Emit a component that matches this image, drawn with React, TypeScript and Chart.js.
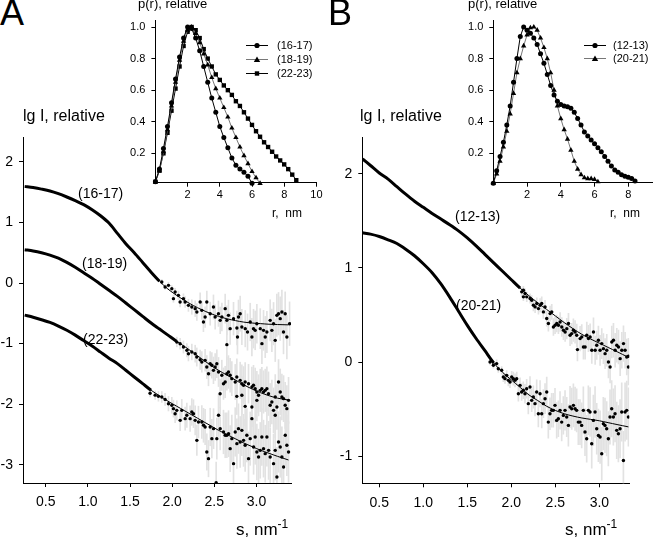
import React, { useEffect, useRef } from 'react';
import { Chart, registerables } from 'chart.js';

Chart.register(...registerables);

const FONT = '"Liberation Sans", Arial, Helvetica, sans-serif';
Chart.defaults.font.family = FONT;
Chart.defaults.color = '#000';

// ---------------- Panel A : scattering curves (lg I vs s) ----------------
const sGridA = [0.25, 0.35, 0.45, 0.55, 0.65, 0.75, 0.85, 0.95, 1.05, 1.15, 1.25, 1.35, 1.45, 1.55, 1.65, 1.75,
  1.85, 1.95, 2.05, 2.15, 2.25, 2.35, 2.45, 2.55, 2.65, 2.75, 2.85, 2.95, 3.05, 3.15, 3.25, 3.38];
const fitA1617 = [1.595, 1.575, 1.55, 1.52, 1.475, 1.42, 1.36, 1.295, 1.21, 1.11, 0.99, 0.82, 0.65, 0.5, 0.34, 0.18,
  0.03, -0.1, -0.2, -0.29, -0.37, -0.44, -0.5, -0.55, -0.59, -0.62, -0.645, -0.66, -0.67, -0.68, -0.685, -0.69];
const fitA1819 = [0.55, 0.53, 0.5, 0.46, 0.41, 0.34, 0.26, 0.17, 0.08, -0.02, -0.12, -0.22, -0.33, -0.44, -0.55, -0.66,
  -0.76, -0.86, -0.96, -1.05, -1.15, -1.25, -1.35, -1.44, -1.52, -1.6, -1.68, -1.75, -1.81, -1.86, -1.9, -1.93];
const fitA2223 = [-0.53, -0.565, -0.605, -0.65, -0.71, -0.78, -0.86, -0.95, -1.04, -1.14, -1.24, -1.33, -1.44, -1.55, -1.66, -1.77,
  -1.86, -1.95, -2.03, -2.11, -2.19, -2.27, -2.35, -2.43, -2.5, -2.57, -2.64, -2.7, -2.76, -2.81, -2.86, -2.92];
const denseEndA = [1.85, 2.05, 1.72];

// noisy experimental points: [s, lg I, error]
const noisyA1617 = [[1.877,0.017,0.04],[1.916,-0.066,0.04],[1.956,-0.038,0.05],[1.996,-0.093,0.05],[2.015,-0.258,0.06],[2.035,-0.148,0.06],[2.074,-0.203,0.07],[2.094,-0.313,0.08],[2.134,-0.258,0.08],[2.154,-0.313,0.09],[2.193,-0.368,0.1],[2.233,-0.396,0.12],[2.273,-0.423,0.13],[2.293,-0.478,0.14],[2.332,-0.313,0.15],[2.352,-0.451,0.15],[2.371,-0.643,0.16],[2.391,-0.561,0.17],[2.411,-0.313,0.18],[2.451,-0.506,0.19],[2.49,-0.396,0.2],[2.51,-0.561,0.2],[2.549,-0.506,0.21],[2.57,-0.616,0.22],[2.59,-0.561,0.23],[2.629,-0.423,0.24],[2.649,-0.616,0.24],[2.649,-1.017,0.25],[2.668,-0.533,0.25],[2.688,-0.753,0.26],[2.728,-0.588,0.27],[2.768,-0.743,0.28],[2.775,-0.891,0.28],[2.787,-0.561,0.28],[2.807,-0.506,0.29],[2.827,-0.726,0.29],[2.867,-0.753,0.3],[2.894,-0.809,0.3],[2.926,-0.643,0.31],[2.946,-0.891,0.31],[2.965,-0.753,0.32],[2.985,-0.781,0.32],[3.005,-0.671,0.32],[3.045,-0.753,0.33],[3.065,-1.0,0.33],[3.084,-0.781,0.33],[3.104,-0.891,0.34],[3.124,-0.809,0.34],[3.163,-0.616,0.34],[3.183,-0.781,0.35],[3.203,-0.671,0.35],[3.223,-0.946,0.35],[3.242,-0.533,0.35],[3.262,-0.506,0.35],[3.282,-0.588,0.36],[3.302,-0.478,0.36],[3.321,-0.809,0.36],[3.341,-0.506,0.36],[3.361,-0.891,0.36],[3.393,-0.671,0.36]];
const noisyA1819 = [[2.055,-0.973,0.08],[2.094,-1.001,0.09],[2.134,-1.056,0.1],[2.174,-1.111,0.11],[2.193,-1.166,0.12],[2.233,-1.138,0.13],[2.273,-1.166,0.14],[2.292,-1.221,0.15],[2.332,-1.265,0.16],[2.352,-1.303,0.17],[2.391,-1.276,0.18],[2.411,-1.386,0.19],[2.431,-1.496,0.2],[2.451,-1.331,0.2],[2.471,-1.358,0.21],[2.49,-1.441,0.22],[2.51,-1.386,0.22],[2.53,-1.331,0.23],[2.55,-1.468,0.24],[2.569,-1.826,0.24],[2.589,-1.523,0.25],[2.609,-1.661,0.26],[2.629,-1.633,0.26],[2.649,-1.496,0.27],[2.668,-1.468,0.27],[2.688,-1.523,0.28],[2.708,-1.578,0.28],[2.748,-1.633,0.29],[2.767,-1.551,0.3],[2.767,-1.87,0.3],[2.807,-1.606,0.3],[2.827,-1.661,0.31],[2.827,-1.853,0.31],[2.847,-1.688,0.31],[2.866,-1.633,0.32],[2.866,-2.035,0.32],[2.906,-1.661,0.32],[2.946,-1.716,0.33],[2.946,-2.046,0.33],[2.946,-2.238,0.33],[2.965,-1.688,0.33],[2.985,-1.743,0.34],[3.005,-1.798,0.34],[3.005,-1.936,0.34],[3.025,-1.853,0.34],[3.045,-1.771,0.35],[3.064,-1.743,0.35],[3.084,-1.798,0.35],[3.104,-1.771,0.35],[3.124,-1.743,0.36],[3.143,-1.826,0.36],[3.163,-2.018,0.36],[3.183,-1.963,0.36],[3.203,-2.101,0.37],[3.223,-1.881,0.37],[3.223,-2.183,0.37],[3.243,-2.046,0.37],[3.262,-1.633,0.37],[3.282,-1.798,0.38],[3.302,-1.881,0.38],[3.322,-1.908,0.38],[3.341,-2.018,0.38],[3.361,-2.073,0.38],[3.381,-1.936,0.38]];
const noisyA2223 = [[1.738,-1.82,0.06],[1.798,-1.85,0.07],[1.837,-1.87,0.08],[1.877,-1.88,0.09],[1.916,-1.92,0.1],[1.956,-1.991,0.12],[1.996,-2.018,0.13],[2.015,-2.073,0.14],[2.035,-2.156,0.15],[2.055,-2.101,0.16],[2.095,-2.266,0.17],[2.114,-2.101,0.18],[2.154,-2.238,0.19],[2.174,-2.183,0.2],[2.213,-2.238,0.21],[2.233,-2.128,0.22],[2.253,-2.156,0.23],[2.273,-2.266,0.24],[2.293,-2.596,0.25],[2.312,-2.293,0.26],[2.352,-2.293,0.27],[2.372,-2.348,0.28],[2.391,-2.376,0.29],[2.411,-2.788,0.3],[2.431,-2.898,0.3],[2.451,-2.376,0.31],[2.471,-2.568,0.32],[2.491,-2.403,0.33],[2.522,-3.294,0.34],[2.53,-2.568,0.34],[2.55,-2.183,0.35],[2.57,-2.403,0.35],[2.609,-2.458,0.36],[2.629,-2.513,0.37],[2.649,-2.513,0.37],[2.669,-2.486,0.38],[2.688,-2.733,0.38],[2.708,-2.568,0.39],[2.728,-2.981,0.4],[2.748,-2.458,0.4],[2.768,-2.651,0.41],[2.787,-2.403,0.41],[2.807,-2.623,0.42],[2.827,-2.431,0.42],[2.847,-2.596,0.43],[2.866,-2.678,0.43],[2.886,-2.513,0.44],[2.906,-2.898,0.44],[2.926,-2.568,0.44],[2.966,-2.706,0.45],[2.985,-2.541,0.45],[3.005,-2.788,0.46],[3.025,-2.871,0.46],[3.045,-2.761,0.46],[3.064,-2.541,0.47],[3.084,-2.733,0.47],[3.104,-2.816,0.47],[3.124,-2.541,0.48],[3.144,-2.761,0.48],[3.163,-2.871,0.48],[3.203,-2.981,0.49],[3.223,-2.761,0.49],[3.243,-3.2,0.49],[3.262,-2.623,0.5],[3.282,-2.706,0.5],[3.302,-2.871,0.5],[3.322,-3.036,0.5],[3.342,-2.513,0.5],[3.361,-2.678,0.5],[3.381,-2.788,0.5]];

// ---------------- Panel B : scattering curves ----------------
const sGridB = [0.31, 0.4, 0.5, 0.6, 0.7, 0.8, 0.9, 1.0, 1.1, 1.2, 1.3, 1.4, 1.5, 1.6, 1.7, 1.8, 1.9, 2.0, 2.1, 2.2,
  2.3, 2.4, 2.5, 2.6, 2.7, 2.8, 2.9, 3.0, 3.1, 3.2, 3.33];
const fitB1213 = [2.16, 2.09, 2.01, 1.945, 1.865, 1.785, 1.71, 1.645, 1.58, 1.52, 1.46, 1.395, 1.32, 1.235, 1.145, 1.055,
  0.965, 0.875, 0.785, 0.705, 0.63, 0.56, 0.49, 0.42, 0.355, 0.295, 0.245, 0.2, 0.155, 0.11, 0.05];
const fitB2021 = [1.375, 1.36, 1.335, 1.3, 1.26, 1.2, 1.13, 1.045, 0.95, 0.83, 0.69, 0.54, 0.39, 0.25, 0.12, -0.01,
  -0.11, -0.19, -0.27, -0.35, -0.41, -0.47, -0.515, -0.55, -0.575, -0.595, -0.61, -0.625, -0.645, -0.665, -0.69];
const denseEndB = [2.1, 1.75];

const noisyB1213 = [[2.118,0.746,0.04],[2.137,0.764,0.04],[2.137,0.693,0.04],[2.156,0.728,0.05],[2.175,0.693,0.05],[2.213,0.675,0.05],[2.232,0.657,0.05],[2.251,0.604,0.06],[2.27,0.586,0.06],[2.289,0.622,0.06],[2.308,0.568,0.06],[2.327,0.604,0.07],[2.345,0.622,0.07],[2.364,0.533,0.07],[2.383,0.586,0.07],[2.402,0.462,0.08],[2.421,0.409,0.08],[2.44,0.515,0.08],[2.459,0.533,0.08],[2.478,0.373,0.09],[2.497,0.391,0.09],[2.516,0.409,0.09],[2.535,0.391,0.09],[2.554,0.426,0.1],[2.573,0.373,0.1],[2.592,0.338,0.1],[2.611,0.32,0.1],[2.63,0.355,0.11],[2.649,0.409,0.11],[2.667,0.284,0.11],[2.686,0.302,0.11],[2.705,0.338,0.12],[2.724,0.32,0.12],[2.743,0.284,0.12],[2.751,0.132,0.12],[2.781,0.249,0.13],[2.8,0.267,0.13],[2.819,0.16,0.13],[2.838,0.16,0.13],[2.857,0.284,0.14],[2.876,0.249,0.14],[2.895,0.267,0.14],[2.914,0.125,0.14],[2.933,0.32,0.15],[2.952,0.125,0.15],[2.97,0.178,0.15],[2.989,0.231,0.15],[3.008,0.125,0.16],[3.027,0.196,0.16],[3.046,0.142,0.16],[3.065,0.089,0.16],[3.084,0.125,0.17],[3.103,0.0,0.17],[3.122,-0.053,0.17],[3.141,0.213,0.17],[3.16,0.231,0.18],[3.179,0.125,0.18],[3.198,0.178,0.18],[3.217,0.16,0.18],[3.236,0.036,0.18],[3.255,0.125,0.19],[3.274,0.196,0.19],[3.292,0.125,0.19],[3.311,0.054,0.19],[3.33,-0.053,0.19],[3.33,0.061,0.19]];
const noisyB2021 = [[1.758,0.0,0.03],[1.796,-0.035,0.03],[1.833,-0.017,0.04],[1.852,-0.071,0.04],[1.89,-0.088,0.04],[1.909,-0.159,0.05],[1.928,-0.177,0.05],[1.947,-0.142,0.05],[1.966,-0.195,0.06],[1.985,-0.213,0.06],[2.004,-0.159,0.06],[2.023,-0.177,0.07],[2.042,-0.195,0.07],[2.061,-0.177,0.07],[2.08,-0.337,0.08],[2.099,-0.248,0.08],[2.117,-0.319,0.09],[2.136,-0.301,0.09],[2.155,-0.337,0.1],[2.174,-0.284,0.1],[2.193,-0.443,0.11],[2.212,-0.266,0.11],[2.231,-0.408,0.12],[2.25,-0.372,0.12],[2.269,-0.443,0.13],[2.288,-0.319,0.13],[2.307,-0.55,0.14],[2.326,-0.337,0.14],[2.345,-0.55,0.15],[2.364,-0.443,0.15],[2.383,-0.39,0.16],[2.402,-0.319,0.16],[2.42,-0.639,0.17],[2.439,-0.55,0.17],[2.458,-0.514,0.18],[2.477,-0.514,0.18],[2.496,-0.461,0.18],[2.515,-0.621,0.19],[2.534,-0.603,0.19],[2.553,-0.514,0.2],[2.572,-0.639,0.2],[2.591,-0.568,0.2],[2.61,-0.514,0.21],[2.629,-0.585,0.21],[2.648,-0.674,0.22],[2.667,-0.479,0.22],[2.686,-0.497,0.22],[2.705,-0.461,0.23],[2.724,-0.497,0.23],[2.742,-0.514,0.23],[2.761,-0.639,0.24],[2.78,-0.639,0.24],[2.799,-0.674,0.24],[2.818,-0.514,0.25],[2.837,-0.745,0.25],[2.856,-0.816,0.25],[2.875,-0.514,0.26],[2.894,-0.532,0.26],[2.913,-0.869,0.26],[2.932,-0.621,0.27],[2.951,-0.532,0.27],[2.97,-0.71,0.27],[2.989,-0.781,0.28],[3.008,-0.798,0.28],[3.027,-0.976,0.28],[3.045,-0.656,0.28],[3.064,-0.674,0.29],[3.083,-0.71,0.29],[3.102,-0.816,0.29],[3.121,-0.585,0.29],[3.14,-0.497,0.3],[3.159,-0.585,0.3],[3.178,-0.55,0.3],[3.197,-0.727,0.3],[3.216,-0.763,0.3],[3.235,-0.71,0.31],[3.254,-0.532,0.31],[3.273,-1.047,0.31],[3.292,-0.532,0.31],[3.311,-0.514,0.31],[3.33,-0.585,0.31]];

// ---------------- Insets : p(r) ----------------
const rGridA = [0, 0.25, 0.5, 0.75, 1.0, 1.25, 1.5, 1.75, 2.0, 2.25, 2.5, 2.75, 3.0, 3.25, 3.5, 3.75, 4.0, 4.25, 4.5,
  4.75, 5.0, 5.25, 5.5, 5.75, 6.0, 6.25, 6.5, 6.75, 7.0, 7.25, 7.5, 7.75, 8.0, 8.25, 8.5, 8.75];
const pA1617 = [0.02, 0.1, 0.23, 0.37, 0.52, 0.67, 0.81, 0.93, 1.0, 0.99, 0.93, 0.85, 0.75, 0.65, 0.55, 0.46, 0.37,
  0.3, 0.235, 0.17, 0.125, 0.1, 0.08, 0.055, 0.01];
const pA1819 = [0.02, 0.09, 0.21, 0.35, 0.5, 0.65, 0.79, 0.91, 0.98, 1.0, 0.96, 0.9, 0.83, 0.76, 0.68, 0.61, 0.55,
  0.49, 0.43, 0.36, 0.3, 0.24, 0.185, 0.135, 0.085, 0.045, 0.01];
const pA2223 = [0.02, 0.09, 0.2, 0.33, 0.47, 0.61, 0.75, 0.88, 0.97, 1.0, 0.98, 0.93, 0.86, 0.8, 0.75, 0.7, 0.665,
  0.63, 0.6, 0.57, 0.53, 0.5, 0.46, 0.42, 0.38, 0.34, 0.305, 0.27, 0.24, 0.21, 0.18, 0.155, 0.13, 0.1, 0.065, 0.03];

const rGridB = [0, 0.2, 0.4, 0.6, 0.8, 1.0, 1.2, 1.4, 1.6, 1.8, 2.0, 2.2, 2.4, 2.6, 2.8, 3.0, 3.2, 3.4, 3.6, 3.8, 4.0,
  4.2, 4.4, 4.6, 4.8, 5.0, 5.2, 5.4, 5.6, 5.8, 6.0, 6.2, 6.4, 6.6, 6.8, 7.0, 7.2, 7.4, 7.6, 7.8, 8.0, 8.2, 8.4];
const pB1213 = [0.01, 0.09, 0.18, 0.27, 0.38, 0.5, 0.65, 0.8, 0.94, 1.0, 0.98, 0.96, 0.93, 0.89, 0.83, 0.77, 0.7,
  0.63, 0.57, 0.53, 0.51, 0.5, 0.495, 0.485, 0.46, 0.42, 0.38, 0.335, 0.31, 0.285, 0.26, 0.235, 0.21, 0.18, 0.15,
  0.12, 0.095, 0.08, 0.065, 0.055, 0.048, 0.04, 0.025];
const pB2021 = [0.01, 0.07, 0.15, 0.24, 0.34, 0.45, 0.58, 0.71, 0.8, 0.88, 0.95, 0.995, 1.0, 0.98, 0.93, 0.87, 0.8,
  0.71, 0.6, 0.5, 0.42, 0.35, 0.29, 0.22, 0.15, 0.1, 0.065, 0.045, 0.04, 0.04, 0.035, 0.02];

// ---------------- ticks ----------------
const sTicksA = [0.5, 1.0, 1.5, 2.0, 2.5, 3.0];
const sTicksB = [0.5, 1.0, 1.5, 2.0, 2.5, 3.0];
const lgTicksA = [-3, -2, -1, 0, 1, 2];
const lgTicksB = [-1, 0, 1, 2];
const rTicksA = [2, 4, 6, 8, 10];
const rTicksB = [2, 4, 6, 8];
const pTicks = [0.2, 0.4, 0.6, 0.8, 1.0];

function linAxis(min: number, max: number, ticks: number[], size: number, horizontal: boolean,
  fontSize: number, padding: number, fmt: (v: number) => string) {
  return {
    type: 'linear', min, max, offset: false,
    grid: { display: true, offset: false, drawOnChartArea: false, drawTicks: true, tickLength: 4, color: '#000', lineWidth: 1 },
    border: { display: true, color: '#000', width: 1 },
    ticks: { color: '#000', font: { size: fontSize, family: FONT }, padding, autoSkip: false, maxRotation: 0, minRotation: 0,
      callback: (v: any) => fmt(Number(v)) },
    afterBuildTicks: (sc: any) => { sc.ticks = ticks.map((value) => ({ value })); },
    afterFit: (sc: any) => {
      if (horizontal) sc.height = size; else sc.width = size;
      sc.paddingLeft = 0; sc.paddingRight = 0; sc.paddingTop = 0; sc.paddingBottom = 0;
    },
  };
}

type Curve = { fit: number[]; noisy: number[][]; denseEnd: number };

function mainConfig(curves: Curve[], grid: number[], o: any) {
  const err: any[] = [];
  curves.forEach((c) => c.noisy.forEach(([s, v, e]) => err.push({ x: s, y: [v - e, v + e] })));
  const datasets: any[] = [{ type: 'bar', data: err, backgroundColor: '#e2e2e2', borderWidth: 0, barThickness: 1, order: 3 }];
  curves.forEach((c) => {
    datasets.push({ type: 'scatter', data: c.noisy.map(([s, v]) => ({ x: s, y: v })), pointRadius: 1.7,
      pointBackgroundColor: '#000', pointBorderWidth: 0, pointHoverRadius: 0, showLine: false, order: 2 });
    datasets.push({ type: 'line', data: grid.map((s, i) => ({ x: s, y: c.fit[i] })), borderColor: '#000', borderWidth: 1,
      pointRadius: 0, tension: 0.3, showLine: true, fill: false, order: 1,
      segment: { borderWidth: (ctx: any) => (ctx.p0.parsed.x < c.denseEnd ? 3 : 1) } });
  });
  return {
    type: 'scatter',
    data: { datasets },
    options: {
      responsive: false, animation: false, events: [],
      layout: { padding: o.padding },
      plugins: { legend: { display: false }, tooltip: { enabled: false } },
      scales: {
        x: linAxis(o.xMin, o.xMax, o.xTicks, o.xH, true, 14, 7, (v) => v.toFixed(1)),
        y: linAxis(o.yMin, o.yMax, o.yTicks, o.yW, false, 14, 6, (v) => String(v)),
      },
    },
  };
}

type PSeries = { grid: number[]; p: number[]; style: string; radius: number; line: string };

function insetConfig(series: PSeries[], o: any) {
  return {
    type: 'scatter',
    data: {
      datasets: series.map((s) => ({
        type: 'line', data: s.p.map((p, i) => ({ x: s.grid[i], y: p })), showLine: true, borderColor: s.line,
        borderWidth: 1, tension: 0, pointStyle: s.style, pointRadius: s.radius, pointBackgroundColor: '#000',
        pointBorderColor: '#000', pointBorderWidth: 0, pointHoverRadius: 0, clip: false, fill: false,
      })),
    },
    options: {
      responsive: false, animation: false, events: [],
      layout: { padding: o.padding },
      plugins: { legend: { display: false }, tooltip: { enabled: false } },
      scales: {
        x: linAxis(0, o.rMax, o.rTicks, o.xH, true, 11, 2, (v) => String(v)),
        y: linAxis(0.014, 1.04, pTicks, o.yW, false, 11, 6, (v) => v.toFixed(1)),
      },
    },
  };
}

function ChartCanvas({ left, top, width, height, make }: any) {
  const ref = useRef<HTMLCanvasElement>(null);
  useEffect(() => {
    const chart = new Chart(ref.current as HTMLCanvasElement, make());
    return () => chart.destroy();
  }, []);
  return <canvas ref={ref} width={width} height={height} style={{ position: 'absolute', left, top, width, height }} />;
}

function Txt({ x, y, size, children }: any) {
  return (
    <div style={{ position: 'absolute', left: x, top: y, fontSize: size, lineHeight: `${size}px`, fontFamily: FONT,
      color: '#000', whiteSpace: 'pre' }}>{children}</div>
  );
}

function Sym({ x, y, kind, line }: any) {
  return (
    <svg width={23} height={9} style={{ position: 'absolute', left: x, top: y - 4.5 }}>
      <line x1={0} y1={4.5} x2={22} y2={4.5} stroke={line} strokeWidth={1} />
      {kind === 'circle' && <circle cx={11} cy={4.5} r={2.6} fill="#000" />}
      {kind === 'triangle' && <polygon points="11,1.4 14.2,7 7.8,7" fill="#000" />}
      {kind === 'rect' && <rect x={8.8} y={2.3} width={4.4} height={4.4} fill="#000" />}
    </svg>
  );
}

function AxisS({ x }: any) {
  return (
    <Txt x={x} y={521} size={17}>s, nm<span style={{ fontSize: 12, position: 'relative', top: -7 }}>-1</span></Txt>
  );
}

export default function App() {
  const makeMainA = () => mainConfig(
    [
      { fit: fitA1617, noisy: noisyA1617, denseEnd: denseEndA[0] },
      { fit: fitA1819, noisy: noisyA1819, denseEnd: denseEndA[1] },
      { fit: fitA2223, noisy: noisyA2223, denseEnd: denseEndA[2] },
    ], sGridA,
    { xMin: 0.23, xMax: 3.41, yMin: -3.3, yMax: 2.41, xTicks: sTicksA, yTicks: lgTicksA, xH: 54, yW: 23,
      padding: { left: 0, top: 17, right: 9, bottom: 0 } });
  const makeMainB = () => mainConfig(
    [
      { fit: fitB1213, noisy: noisyB1213, denseEnd: denseEndB[0] },
      { fit: fitB2021, noisy: noisyB2021, denseEnd: denseEndB[1] },
    ], sGridB,
    { xMin: 0.307, xMax: 3.34, yMin: -1.29, yMax: 2.39, xTicks: sTicksB, yTicks: lgTicksB, xH: 53.7, yW: 32.3,
      padding: { left: 0, top: 17.3, right: 26.7, bottom: 0 } });
  const makeInsetA = () => insetConfig(
    [
      { grid: rGridA, p: pA1617, style: 'circle', radius: 2.5, line: '#000' },
      { grid: rGridA, p: pA1819, style: 'triangle', radius: 3.1, line: '#777' },
      { grid: rGridA, p: pA2223, style: 'rect', radius: 3.1, line: '#000' },
    ],
    { rMax: 10, rTicks: rTicksA, xH: 47.3, yW: 35.4, padding: { left: 0, top: 20.7, right: 13.6, bottom: 0 } });
  const makeInsetB = () => insetConfig(
    [
      { grid: rGridB, p: pB1213, style: 'circle', radius: 2.5, line: '#000' },
      { grid: rGridB, p: pB2021, style: 'triangle', radius: 3.1, line: '#777' },
    ],
    { rMax: 9.46, rTicks: rTicksB, xH: 47.3, yW: 38.3, padding: { left: 0, top: 20.7, right: 0, bottom: 0 } });

  return (
    <div style={{ position: 'fixed', left: 0, top: 0, width: 656, height: 537, background: '#fff', overflow: 'hidden' }}>
      <ChartCanvas left={0} top={120} width={300} height={417} make={makeMainA} />
      <ChartCanvas left={330} top={120} width={326} height={417} make={makeMainB} />
      <ChartCanvas left={120} top={0} width={210} height={230} make={makeInsetA} />
      <ChartCanvas left={455} top={0} width={201} height={230} make={makeInsetB} />

      <Txt x={0} y={-5} size={36}>A</Txt>
      <Txt x={328} y={-5} size={36}>B</Txt>

      <Txt x={23} y={108} size={16}>lg I, relative</Txt>
      <Txt x={360} y={108} size={16}>lg I, relative</Txt>
      <AxisS x={236} />
      <AxisS x={565} />

      <Txt x={78} y={186} size={14}>(16-17)</Txt>
      <Txt x={82} y={256} size={14}>(18-19)</Txt>
      <Txt x={83} y={332} size={14}>(22-23)</Txt>
      <Txt x={455} y={209} size={14}>(12-13)</Txt>
      <Txt x={456} y={298} size={14}>(20-21)</Txt>

      <Txt x={138} y={-3} size={13}>p(r), relative</Txt>
      <Txt x={468} y={-3} size={13}>p(r), relative</Txt>
      <Txt x={272} y={207} size={12}>{'r,  nm'}</Txt>
      <Txt x={610} y={207} size={12}>{'r,  nm'}</Txt>

      <Sym x={246} y={45} kind="circle" line="#000" />
      <Sym x={246} y={59} kind="triangle" line="#777" />
      <Sym x={246} y={73} kind="rect" line="#000" />
      <Txt x={277} y={39.5} size={11}>(16-17)</Txt>
      <Txt x={277} y={53.5} size={11}>(18-19)</Txt>
      <Txt x={277} y={67.5} size={11}>(22-23)</Txt>

      <Sym x={584} y={45} kind="circle" line="#000" />
      <Sym x={584} y={58.5} kind="triangle" line="#777" />
      <Txt x={613} y={39.5} size={11}>(12-13)</Txt>
      <Txt x={613} y={53} size={11}>(20-21)</Txt>
    </div>
  );
}
